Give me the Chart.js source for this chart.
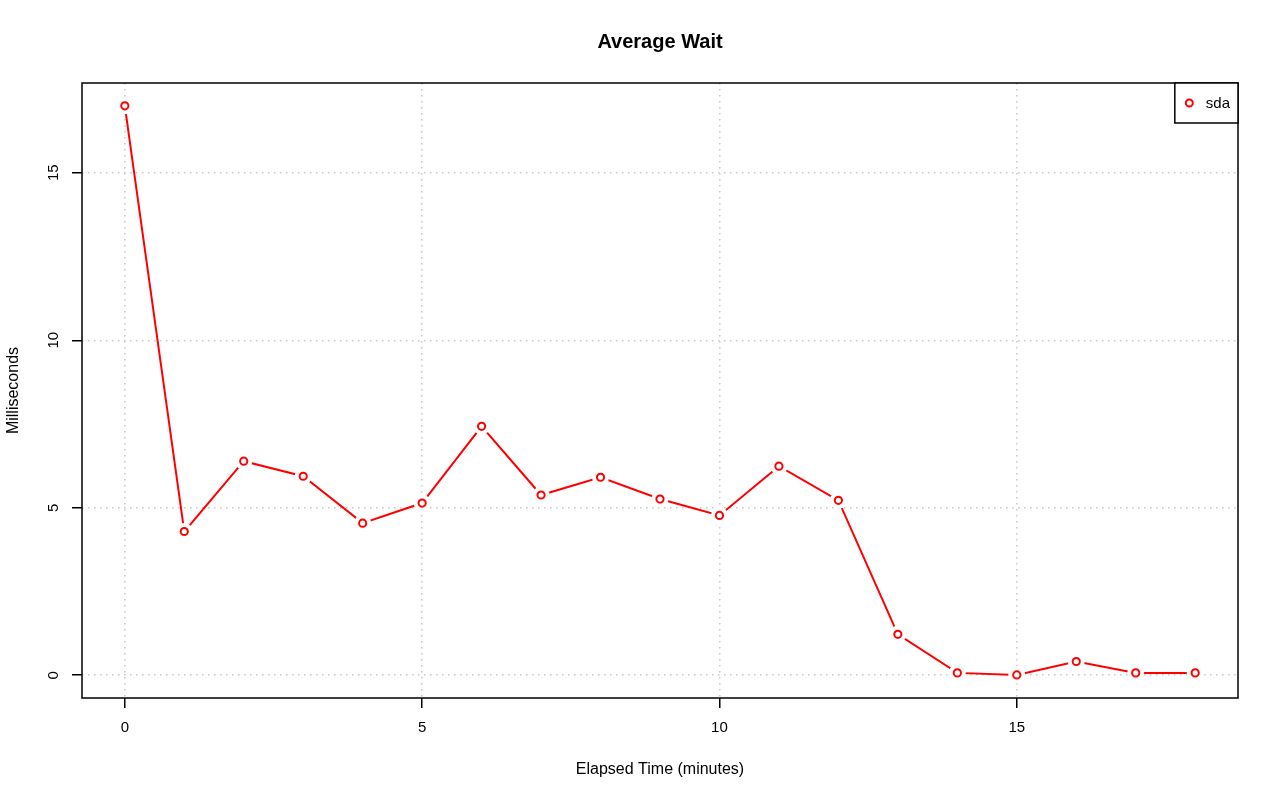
<!DOCTYPE html>
<html>
<head>
<meta charset="utf-8">
<script src="https://cdn.jsdelivr.net/npm/chart.js@4.4.1/dist/chart.umd.min.js"></script>
<style>
html,body{margin:0;padding:0;background:#fff;}
#c{display:block;}
</style>
</head>
<body>
<canvas id="c" width="1280" height="801" style="width:1280px;height:801px"></canvas>
<script>
// ---- data ----
const chartTitle = 'Average Wait';
const xAxisTitle = 'Elapsed Time (minutes)';
const yAxisTitle = 'Milliseconds';
const seriesName = 'sda';
const elapsedMinutes = [0,1,2,3,4,5,6,7,8,9,10,11,12,13,14,15,16,17,18];
const waitMs = [17.0,4.29,6.39,5.94,4.54,5.14,7.43,5.38,5.91,5.26,4.77,6.24,5.22,1.22,0.07,0.01,0.41,0.07,0.07];
const xTickValues = [0,5,10,15];
const yTickValues = [0,5,10,15];
const xRange = [-0.72, 18.72];
const yRange = [-0.68, 17.68];

const points = elapsedMinutes.map((m,i)=>({x:m, y:waitMs[i]}));
const FONT = "'Liberation Sans', Arial, Helvetica, sans-serif";
const gridCol = '#c8c8c8';

const framePlugin = {
  id: 'frame',
  afterDatasetsDraw(chart){
    const {ctx, chartArea:a} = chart;
    ctx.save();
    ctx.strokeStyle = '#000';
    ctx.lineWidth = 1.5;
    ctx.strokeRect(a.left, a.top, a.right - a.left, a.bottom - a.top);
    // legend box (top-right, R style)
    const label = chart.data.datasets[1].label;
    ctx.font = '15px ' + FONT;
    const tw = ctx.measureText(label).width;
    const bw = 14 + 17 + tw + 8, bh = 40;
    const bx = a.right - bw, by = a.top;
    ctx.fillStyle = '#fff';
    ctx.fillRect(bx, by, bw, bh);
    ctx.strokeRect(bx, by, bw, bh);
    ctx.beginPath();
    ctx.arc(bx + 14.5, by + 20, 3.5, 0, Math.PI*2);
    ctx.strokeStyle = '#ff0000';
    ctx.lineWidth = 2;
    ctx.stroke();
    ctx.fillStyle = '#000';
    ctx.textBaseline = 'middle';
    ctx.textAlign = 'left';
    ctx.fillText(label, bx + 31, by + 20.5);
    ctx.restore();
  }
};

new Chart(document.getElementById('c'), {
  type: 'line',
  data: {
    datasets: [
      {
        label: 'sda-line',
        data: points,
        borderColor: '#ff0000',
        borderWidth: 2,
        pointRadius: 8.5,
        pointBorderWidth: 0,
        pointBackgroundColor: '#ffffff',
        pointBorderColor: '#ffffff',
        tension: 0,
        fill: false,
        order: 3
      },
      {
        label: seriesName,
        data: points,
        showLine: false,
        pointRadius: 3.6,
        pointBorderWidth: 2,
        pointBorderColor: '#ff0000',
        pointBackgroundColor: '#ffffff',
        order: 1
      }
    ]
  },
  options: {
    responsive: false,
    animation: false,
    devicePixelRatio: 1,
    layout: { padding: { left: 0, right: 42, top: 0, bottom: 0 } },
    plugins: { legend: { display: false }, tooltip: { enabled: false }, title: { display: false } },
    scales: {
      x: {
        type: 'linear', position: 'bottom', min: xRange[0], max: xRange[1],
        afterBuildTicks: s => { s.ticks = xTickValues.map(v => ({value: v})); },
        afterFit: s => { s.height = 103; },
        grid: { color: gridCol, lineWidth: 1.5, drawTicks: true, tickLength: 10, tickColor: '#000', tickWidth: 1.5, tickBorderDash: [] },
        border: { display: false, dash: [1.5, 4.5] },
        ticks: { color: '#000', padding: 11, font: { family: FONT, size: 15 } },
        title: { display: true, text: xAxisTitle, color: '#000', font: { family: FONT, size: 16 }, padding: { top: 0, bottom: 21.4 } }
      },
      xTop: {
        type: 'linear', position: 'top', min: xRange[0], max: xRange[1],
        afterFit: s => { s.height = 83; },
        grid: { display: false }, border: { display: false },
        ticks: { display: false },
        title: { display: true, text: chartTitle, color: '#000', font: { family: FONT, size: 20, weight: 'bold' }, padding: { top: 30, bottom: 0 } }
      },
      y: {
        type: 'linear', position: 'left', min: yRange[0], max: yRange[1],
        afterBuildTicks: s => { s.ticks = yTickValues.map(v => ({value: v})); },
        afterFit: s => { s.width = 82; },
        grid: { color: gridCol, lineWidth: 1.5, drawTicks: true, tickLength: 10, tickColor: '#000', tickWidth: 1.5, tickBorderDash: [] },
        border: { display: false, dash: [1.5, 4.5] },
        ticks: { color: '#000', padding: 9.5, minRotation: 90, maxRotation: 90, crossAlign: 'center', font: { family: FONT, size: 15 } },
        title: { display: true, text: yAxisTitle, color: '#000', font: { family: FONT, size: 16 }, padding: { top: 4.4, bottom: 0 } }
      }
    }
  },
  plugins: [framePlugin]
});
</script>
</body>
</html>
